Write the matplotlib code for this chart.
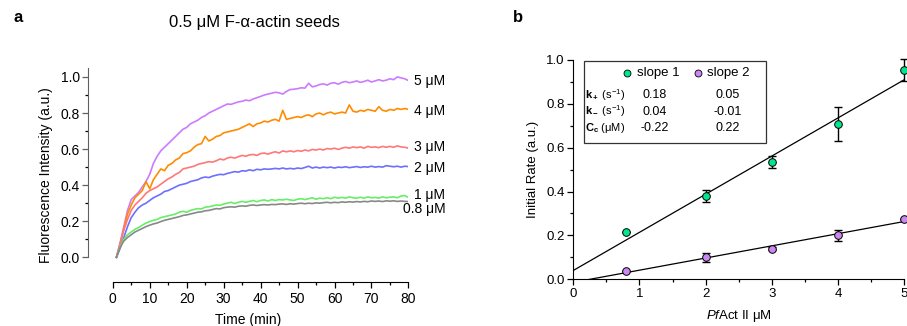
import numpy as np
import matplotlib
matplotlib.use("Agg")
import matplotlib.pyplot as plt
import matplotlib.patches as patches

plt.rcParams['font.family'] = ['Liberation Sans', 'DejaVu Sans']
plt.rcParams['mathtext.fontset'] = 'custom'
plt.rcParams['mathtext.rm'] = 'Liberation Sans'
plt.rcParams['mathtext.it'] = 'Liberation Sans:italic'
plt.rcParams['mathtext.bf'] = 'Liberation Sans:bold'

# ---- panel a: fluorescence traces (1 min steps) ----
time_min = np.arange(1, 81)

trace_5uM = [0.0, 0.08, 0.17, 0.26, 0.32, 0.34, 0.36, 0.39, 0.42, 0.46,
             0.52, 0.56, 0.59, 0.61, 0.63, 0.65, 0.67, 0.69, 0.71, 0.72,
             0.74, 0.75, 0.76, 0.775, 0.785, 0.80, 0.81, 0.82, 0.83, 0.84,
             0.85, 0.848, 0.855, 0.862, 0.865, 0.872, 0.868, 0.878, 0.885, 0.892,
             0.90, 0.905, 0.91, 0.915, 0.912, 0.905, 0.92, 0.93, 0.932, 0.935,
             0.94, 0.938, 0.965, 0.945, 0.95, 0.958, 0.962, 0.955, 0.965, 0.968,
             0.96, 0.97, 0.975, 0.968, 0.972, 0.978, 0.97, 0.975, 0.982, 0.972,
             0.978, 0.985, 0.978, 0.982, 0.99, 0.985, 1.0, 0.995, 0.99, 0.98]
trace_4uM = [0.0, 0.07, 0.16, 0.24, 0.29, 0.33, 0.35, 0.37, 0.42, 0.38,
             0.43, 0.46, 0.49, 0.48, 0.51, 0.52, 0.54, 0.55, 0.575, 0.58,
             0.59, 0.61, 0.625, 0.63, 0.67, 0.645, 0.655, 0.67, 0.675, 0.69,
             0.695, 0.70, 0.705, 0.71, 0.72, 0.73, 0.74, 0.725, 0.74, 0.745,
             0.755, 0.75, 0.76, 0.765, 0.755, 0.815, 0.765, 0.77, 0.775, 0.78,
             0.775, 0.785, 0.79, 0.78, 0.795, 0.80, 0.79, 0.80, 0.805, 0.795,
             0.80, 0.805, 0.80, 0.845, 0.81, 0.805, 0.815, 0.81, 0.82, 0.815,
             0.81, 0.835, 0.815, 0.81, 0.82, 0.815, 0.825, 0.82, 0.825, 0.82]
trace_3uM = [0.0, 0.08, 0.15, 0.21, 0.26, 0.29, 0.31, 0.33, 0.355, 0.37,
             0.38, 0.39, 0.405, 0.42, 0.435, 0.445, 0.46, 0.47, 0.49, 0.495,
             0.50, 0.505, 0.515, 0.52, 0.525, 0.53, 0.528, 0.535, 0.545, 0.54,
             0.55, 0.555, 0.55, 0.558, 0.565, 0.56, 0.568, 0.57, 0.565, 0.575,
             0.578, 0.572, 0.58, 0.585, 0.578, 0.59, 0.585, 0.59, 0.585, 0.592,
             0.588, 0.595, 0.59, 0.598, 0.595, 0.60, 0.595, 0.603, 0.60, 0.605,
             0.598, 0.605, 0.61, 0.605, 0.612, 0.608, 0.612, 0.605, 0.615, 0.61,
             0.612, 0.608, 0.615, 0.61, 0.615, 0.61, 0.618, 0.612, 0.61, 0.605]
trace_2uM = [0.0, 0.05, 0.11, 0.17, 0.22, 0.25, 0.275, 0.29, 0.30, 0.315,
             0.33, 0.34, 0.35, 0.365, 0.37, 0.38, 0.39, 0.40, 0.405, 0.41,
             0.42, 0.425, 0.43, 0.44, 0.445, 0.442, 0.45, 0.455, 0.46, 0.458,
             0.465, 0.47, 0.475, 0.472, 0.48, 0.478, 0.485, 0.48, 0.488, 0.485,
             0.49, 0.488, 0.49, 0.493, 0.49, 0.495, 0.49, 0.493, 0.49, 0.495,
             0.492, 0.498, 0.505, 0.495, 0.50, 0.495, 0.50, 0.497, 0.50, 0.495,
             0.50, 0.498, 0.502, 0.497, 0.50, 0.503, 0.498, 0.502, 0.50, 0.505,
             0.50, 0.503, 0.50, 0.508, 0.505, 0.502, 0.505, 0.50, 0.505, 0.503]
trace_1uM = [0.0, 0.06, 0.10, 0.125, 0.14, 0.155, 0.165, 0.178, 0.19, 0.198,
             0.205, 0.21, 0.22, 0.225, 0.23, 0.235, 0.24, 0.25, 0.255, 0.25,
             0.26, 0.265, 0.27, 0.268, 0.278, 0.28, 0.285, 0.29, 0.288, 0.295,
             0.30, 0.305, 0.298, 0.305, 0.31, 0.305, 0.31, 0.315, 0.308, 0.315,
             0.318, 0.312, 0.32, 0.315, 0.32, 0.318, 0.322, 0.318, 0.315, 0.322,
             0.325, 0.32, 0.325, 0.33, 0.322, 0.328, 0.325, 0.33, 0.325, 0.333,
             0.328, 0.332, 0.328, 0.335, 0.33, 0.328, 0.333, 0.328, 0.335, 0.33,
             0.332, 0.328, 0.335, 0.33, 0.333, 0.335, 0.33, 0.34, 0.342, 0.332]
trace_08uM = [0.0, 0.055, 0.09, 0.11, 0.125, 0.14, 0.15, 0.16, 0.17, 0.178,
              0.185, 0.19, 0.198, 0.205, 0.21, 0.215, 0.22, 0.225, 0.232, 0.235,
              0.24, 0.245, 0.25, 0.252, 0.258, 0.26, 0.265, 0.27, 0.268, 0.275,
              0.278, 0.28, 0.278, 0.283, 0.285, 0.283, 0.288, 0.29, 0.287, 0.29,
              0.292, 0.29, 0.293, 0.292, 0.295, 0.296, 0.293, 0.297, 0.295, 0.298,
              0.30, 0.297, 0.30, 0.298, 0.302, 0.30, 0.303, 0.305, 0.302, 0.305,
              0.303, 0.307, 0.305, 0.308, 0.306, 0.309, 0.307, 0.31, 0.308, 0.312,
              0.31, 0.312, 0.309, 0.313, 0.311, 0.313, 0.31, 0.312, 0.31, 0.309]

traces = [trace_5uM, trace_4uM, trace_3uM, trace_2uM, trace_1uM, trace_08uM]
trace_labels = ['5 μM', '4 μM', '3 μM', '2 μM', '1 μM', '0.8 μM']
trace_colors = ['#cc7aff', '#ff8c00', '#ff7878', '#6e6eff', '#66ee66', '#888888']
label_y = [0.978, 0.813, 0.61, 0.494, 0.347, 0.267]

# ---- panel b: initial rates ----
conc = [0.8, 2, 3, 4, 5]
rate_s1 = [0.217, 0.38, 0.533, 0.708, 0.954]
err_s1 = [0.0, 0.028, 0.027, 0.079, 0.052]
rate_s2 = [0.04, 0.10, 0.14, 0.20, 0.277]
err_s2 = [0.0, 0.019, 0.006, 0.024, 0.0]
fit_s1 = (0.174, 0.04)     # slope, intercept
fit_s2 = (0.0555, -0.014)

table_rows = [r'$\mathbf{k_+}$ (s$^{-1}$)', r'$\mathbf{k_-}$ (s$^{-1}$)', r'$\mathbf{C_c}$ (μM)']
table_s1 = ['0.18', '0.04', '-0.22']
table_s2 = ['0.05', '-0.01', '0.22']

green = '#00e68c'
purple = '#cc88f2'

fig = plt.figure(figsize=(9.07, 3.26), dpi=100)

# ================= panel a =================
ax = fig.add_axes([0.097, 0.135, 0.3533, 0.6566])
for y, c in zip(traces, trace_colors):
    ax.plot(time_min, y, color=c, lw=1.2)
ax.set_xlim(-6.7, 80)
ax.set_ylim(-0.137, 1.05)
for s in ['top', 'right']:
    ax.spines[s].set_visible(False)
ax.spines['left'].set_bounds(0, 1.05)
ax.spines['left'].set_color('#606060')
ax.spines['bottom'].set_bounds(0, 80)
ax.set_xticks(np.arange(0, 81, 10))
ax.set_xticks(np.arange(5, 80, 10), minor=True)
ax.set_yticks(np.arange(0, 1.01, 0.2))
ax.set_yticks(np.arange(0.1, 1.0, 0.2), minor=True)
ax.set_yticklabels(['0.0', '0.2', '0.4', '0.6', '0.8', '1.0'])
ax.tick_params(axis='both', which='major', length=4, width=0.9, labelsize=10, pad=2)
ax.tick_params(axis='both', which='minor', length=2.3, width=0.9)
ax.tick_params(axis='x', pad=3)
ax.tick_params(axis='y', colors='#606060', labelcolor='black')
ax.set_xlabel('Time (min)', fontsize=10, labelpad=5)
ax.set_ylabel('Fluorescence Intensity (a.u.)', fontsize=10, labelpad=5)

for lab, ly in zip(trace_labels, label_y):
    ax.text(90, ly, lab, ha='right', va='center', fontsize=10, clip_on=False)

fig.text(0.281, 0.93, '0.5 μM F-α-actin seeds', ha='center', va='center', fontsize=12)
fig.text(0.015, 0.945, 'a', fontsize=12, fontweight='bold', ha='left', va='center')
fig.text(0.565, 0.945, 'b', fontsize=12, fontweight='bold', ha='left', va='center')

# ================= panel b =================
bx = fig.add_axes([0.632, 0.1433, 0.365, 0.6727])
xx = np.array([0, 5])
bx.plot(xx, fit_s1[0] * xx + fit_s1[1], color='black', lw=0.9)
bx.plot(xx, fit_s2[0] * xx + fit_s2[1], color='black', lw=0.9)
bx.errorbar(conc, rate_s1, yerr=err_s1, fmt='none', ecolor='black', elinewidth=1,
            capsize=2.6, capthick=1, clip_on=False)
bx.errorbar(conc, rate_s2, yerr=err_s2, fmt='none', ecolor='black', elinewidth=1,
            capsize=2.6, capthick=1, clip_on=False)
bx.plot(conc, rate_s1, 'o', ms=5.5, mfc=green, mec='black', mew=0.7, clip_on=False, zorder=5)
bx.plot(conc, rate_s2, 'o', ms=5.5, mfc=purple, mec='black', mew=0.7, clip_on=False, zorder=5)
bx.set_xlim(0, 5)
bx.set_ylim(0, 1.0)
for s in ['top', 'right']:
    bx.spines[s].set_visible(False)
bx.set_xticks(np.arange(0, 6, 1))
bx.set_xticks(np.arange(0.5, 5, 1), minor=True)
bx.set_yticks(np.arange(0, 1.01, 0.2))
bx.set_yticks(np.arange(0.1, 1.0, 0.2), minor=True)
bx.set_yticklabels(['0.0', '0.2', '0.4', '0.6', '0.8', '1.0'])
bx.tick_params(axis='both', which='major', length=4, width=0.9, labelsize=9.5, pad=2)
bx.tick_params(axis='both', which='minor', length=2.3, width=0.9)
bx.set_xlabel(r'$\it{Pf}$Act II μM', fontsize=9.5, labelpad=6)
bx.set_ylabel('Initial Rate (a.u.)', fontsize=9.5, labelpad=5)

# legend / table box
bx.add_patch(patches.Rectangle((0.033, 0.623), 0.548, 0.374, transform=bx.transAxes,
                               fill=False, edgecolor='#333333', lw=0.9, zorder=6))
bx.plot([0.162], [0.942], 'o', ms=5, mfc=green, mec='black', mew=0.6,
        transform=bx.transAxes, clip_on=False, zorder=7)
bx.text(0.192, 0.942, 'slope 1', transform=bx.transAxes, fontsize=9.5, va='center')
bx.plot([0.376], [0.942], 'o', ms=5, mfc=purple, mec='black', mew=0.6,
        transform=bx.transAxes, clip_on=False, zorder=7)
bx.text(0.405, 0.942, 'slope 2', transform=bx.transAxes, fontsize=9.5, va='center')
for i, (r, v1, v2) in enumerate(zip(table_rows, table_s1, table_s2)):
    yy = 0.842 - i * 0.077
    bx.text(0.037, yy, r, transform=bx.transAxes, fontsize=8, va='center')
    bx.text(0.247, yy, v1, transform=bx.transAxes, fontsize=9, va='center', ha='center')
    bx.text(0.466, yy, v2, transform=bx.transAxes, fontsize=9, va='center', ha='center')

fig.savefig('out.png', dpi=100)
